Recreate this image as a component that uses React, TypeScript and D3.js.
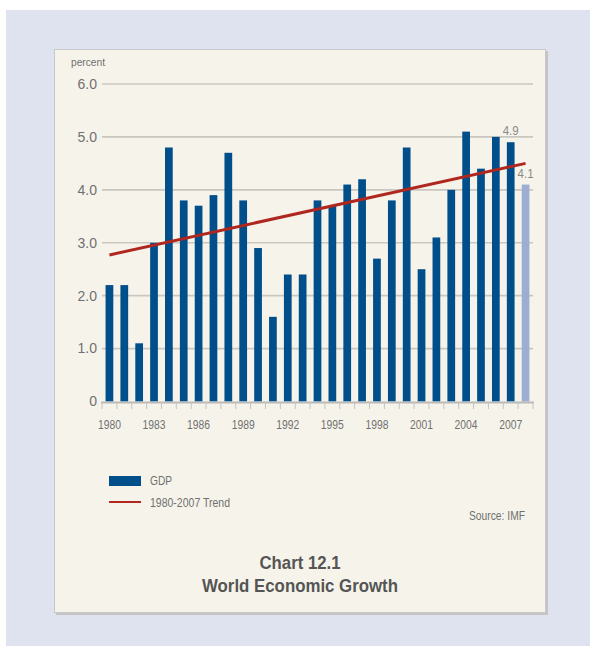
import React from "react";
import * as d3 from "d3";

const years: number[] = d3.range(1980, 2009);
const gdp: number[] = [
  2.2, 2.2, 1.1, 3.0, 4.8, 3.8, 3.7, 3.9, 4.7, 3.8, 2.9, 1.6, 2.4, 2.4, 3.8,
  3.7, 4.1, 4.2, 2.7, 3.8, 4.8, 2.5, 3.1, 4.0, 5.1, 4.4, 5.0, 4.9, 4.1,
];
const trendStart = 2.77;
const trendEnd = 4.5;
const yTicks: number[] = [0, 1, 2, 3, 4, 5, 6];
const xLabelYears: number[] = [1980, 1983, 1986, 1989, 1992, 1995, 1998, 2001, 2004, 2007];
const annotated: { year: number; label: string }[] = [
  { year: 2007, label: "4.9" },
  { year: 2008, label: "4.1" },
];

const W = 590;
const H = 646;
const FONT = "'Liberation Sans', Arial, sans-serif";
const BAR = "#004f8a";
const BAR_LIGHT = "#9eaed3";
const RED = "#b0271f";
const GRID = "#c9c7c0";
const TEXT = "#707070";

export default function App() {
  const x = d3
    .scaleBand<number>()
    .domain(years)
    .range([102, 533])
    .paddingInner(0.48)
    .paddingOuter(0.24);
  const step = x.step();
  const left = 102;
  const y = d3.scaleLinear().domain([0, 6]).range([401.5, 84]);
  const center = (yr: number) => (x(yr) as number) + x.bandwidth() / 2;
  const tickXs = d3.range(0, years.length + 1).map((i) => left + i * step);

  return (
    <svg
      width={W}
      height={H}
      style={{ position: "absolute", left: 0, top: 0, display: "block" }}
      fontFamily={FONT}
    >
      <rect x={0} y={0} width={W} height={H} fill="#ffffff" />
      <rect x={6} y={10} width={W - 6} height={H - 10} fill="#dfe3ef" />
      {/* panel shadow */}
      <rect x={56} y={51} width={492} height={564} fill="#c4c4c4" />
      <rect x={54.5} y={49.5} width={491} height={563} fill="#f6f4ea" stroke="#c8c8c8" strokeWidth={1} />

      {/* gridlines */}
      {yTicks.filter((t) => t > 0).map((t) => (
        <line key={t} x1={102} x2={533} y1={y(t)} y2={y(t)} stroke={GRID} strokeWidth={1.6} />
      ))}
      {/* y labels */}
      {yTicks.map((t) => (
        <text
          key={t}
          x={97}
          y={y(t)}
          dy="0.35em"
          textAnchor="end"
          fontSize={14}
          fill={TEXT}
        >
          {t === 0 ? "0" : t.toFixed(1)}
        </text>
      ))}
      <text x={71} y={66} fontSize={11} fill={TEXT} textLength={34} lengthAdjust="spacingAndGlyphs">
        percent
      </text>

      {/* bars */}
      {years.map((yr, i) => (
        <rect
          key={yr}
          x={x(yr)}
          y={y(gdp[i])}
          width={x.bandwidth()}
          height={y(0) - y(gdp[i])}
          fill={yr === 2008 ? BAR_LIGHT : BAR}
        />
      ))}

      {/* x axis */}
      <line x1={101} x2={534} y1={402.5} y2={402.5} stroke="#b9b9b9" strokeWidth={2} />
      {tickXs.map((tx, i) => (
        <line key={i} x1={tx} x2={tx} y1={402} y2={409} stroke="#c2c2c2" strokeWidth={1} />
      ))}
      {xLabelYears.map((yr) => (
        <text
          key={yr}
          x={center(yr)}
          y={428.5}
          textAnchor="middle"
          fontSize={13}
          fill={TEXT}
          textLength={23}
          lengthAdjust="spacingAndGlyphs"
        >
          {yr}
        </text>
      ))}

      {/* trend line */}
      <line
        x1={center(1980)}
        x2={center(2008)}
        y1={y(trendStart)}
        y2={y(trendEnd)}
        stroke={RED}
        strokeWidth={3}
      />

      {/* annotations */}
      {annotated.map((a) => {
        const v = gdp[years.indexOf(a.year)];
        return (
          <text
            key={a.year}
            x={center(a.year)}
            y={y(v) - 7}
            textAnchor="middle"
            fontSize={13}
            fill="#8a8a8a"
            textLength={16}
            lengthAdjust="spacingAndGlyphs"
          >
            {a.label}
          </text>
        );
      })}

      {/* legend */}
      <rect x={109} y={476} width={32} height={10} fill={BAR} />
      <text
        x={150}
        y={480}
        dy="0.35em"
        fontSize={13}
        fill={TEXT}
        textLength={22}
        lengthAdjust="spacingAndGlyphs"
      >
        GDP
      </text>
      <line x1={109} x2={141} y1={502} y2={502} stroke={RED} strokeWidth={2} />
      <text
        x={150}
        y={502}
        dy="0.35em"
        fontSize={13}
        fill={TEXT}
        textLength={80}
        lengthAdjust="spacingAndGlyphs"
      >
        1980-2007 Trend
      </text>
      <text
        x={525}
        y={515}
        dy="0.35em"
        textAnchor="end"
        fontSize={13}
        fill={TEXT}
        textLength={56}
        lengthAdjust="spacingAndGlyphs"
      >
        Source: IMF
      </text>

      {/* title */}
      <text
        x={300}
        y={562}
        dy="0.35em"
        textAnchor="middle"
        fontSize={19}
        fontWeight="bold"
        fill="#555555"
        textLength={81}
        lengthAdjust="spacingAndGlyphs"
      >
        Chart 12.1
      </text>
      <text
        x={300}
        y={585}
        dy="0.35em"
        textAnchor="middle"
        fontSize={19}
        fontWeight="bold"
        fill="#555555"
        textLength={196}
        lengthAdjust="spacingAndGlyphs"
      >
        World Economic Growth
      </text>
    </svg>
  );
}
